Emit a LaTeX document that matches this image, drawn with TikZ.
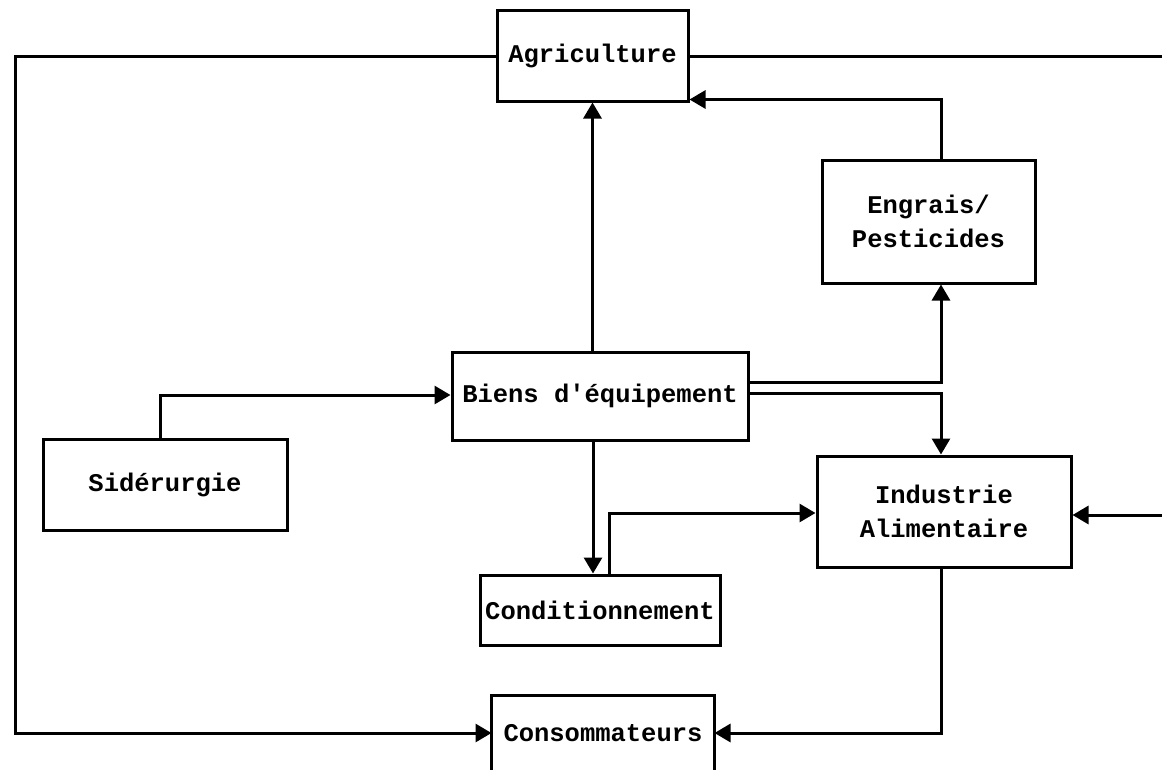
\documentclass[tikz,border=0pt]{standalone}
\usepackage{fontspec}
\setmonofont{Liberation Mono}
\usetikzlibrary{arrows.meta}
\begin{document}
\begin{tikzpicture}[x=1pt,y=-1pt,
  box/.style={draw,line width=3pt,inner sep=0pt,align=center,
    font=\ttfamily\bfseries\fontsize{25.5}{34}\selectfont},
  conn/.style={line width=3pt},
  arr/.style={conn,-{Triangle[length=16pt,width=18pt]}}]
\useasboundingbox (0,0) rectangle (1162,769);
% nodes
\node[box,minimum width=191pt,minimum height=91pt] (agri) at (592.5,55.5) {Agriculture};
\node[box,minimum width=213pt,minimum height=123pt] (engr) at (928.5,221.5) {Engrais/\\Pesticides};
\node[box,minimum width=296pt,minimum height=88pt] (biens) at (600,396) {Biens d'équipement};
\node[box,minimum width=244pt,minimum height=91pt] (sid) at (165,484.5) {Sidérurgie};
\node[box,minimum width=254pt,minimum height=111pt] (ind) at (944,511.5) {Industrie\\Alimentaire};
\node[box,minimum width=240pt,minimum height=70pt] (cond) at (600,610) {Conditionnement};
\node[box,draw=none,minimum width=220pt,minimum height=72pt] (cons) at (603,733) {Consommateurs};
\draw[conn] (cons.south west) -- (cons.north west) -- (cons.north east) -- (cons.south east);
% helper coordinates
\coordinate (lx) at (15,0);
\coordinate (rx) at (1162,0);
\coordinate (ex) at (941,0);
\coordinate (sx) at (160,0);
\coordinate (cx) at (609,0);
\coordinate (bx) at (593,0);
\coordinate (y382) at (0,382);
\coordinate (y393) at (0,393);
\coordinate (y395) at (0,395);
\coordinate (y513) at (0,513);
\coordinate (y515) at (0,515);
\coordinate (y56) at (0,56);
\coordinate (lefttop) at (lx |- y56);
\coordinate (righttop) at (rx |- y56);
\coordinate (rightind) at (rx |- y515);
% connectors
\draw[arr] (agri.west |- y56) -- (lefttop) |- (cons.west);
\draw[conn] (agri.east |- y56) -- (righttop);
\draw[arr] (agri.south |- biens.north) -- (agri.south);
\draw[arr] (ex |- engr.north) |- ([yshift=3pt]agri.south east);
\draw[arr] (biens.east |- y382) -| (ex |- engr.south);
\draw[arr] (biens.east |- y393) -| (ex |- ind.north);
\draw[arr] (sx |- sid.north) |- (biens.west |- y395);
\draw[arr] (bx |- biens.south) -- (bx |- cond.north);
\draw[arr] (cx |- cond.north) |- (ind.west |- y513);
\draw[arr] (rightind) -- (ind.east |- y515);
\draw[arr] (ex |- ind.south) |- (cons.east);
\end{tikzpicture}
\end{document}
